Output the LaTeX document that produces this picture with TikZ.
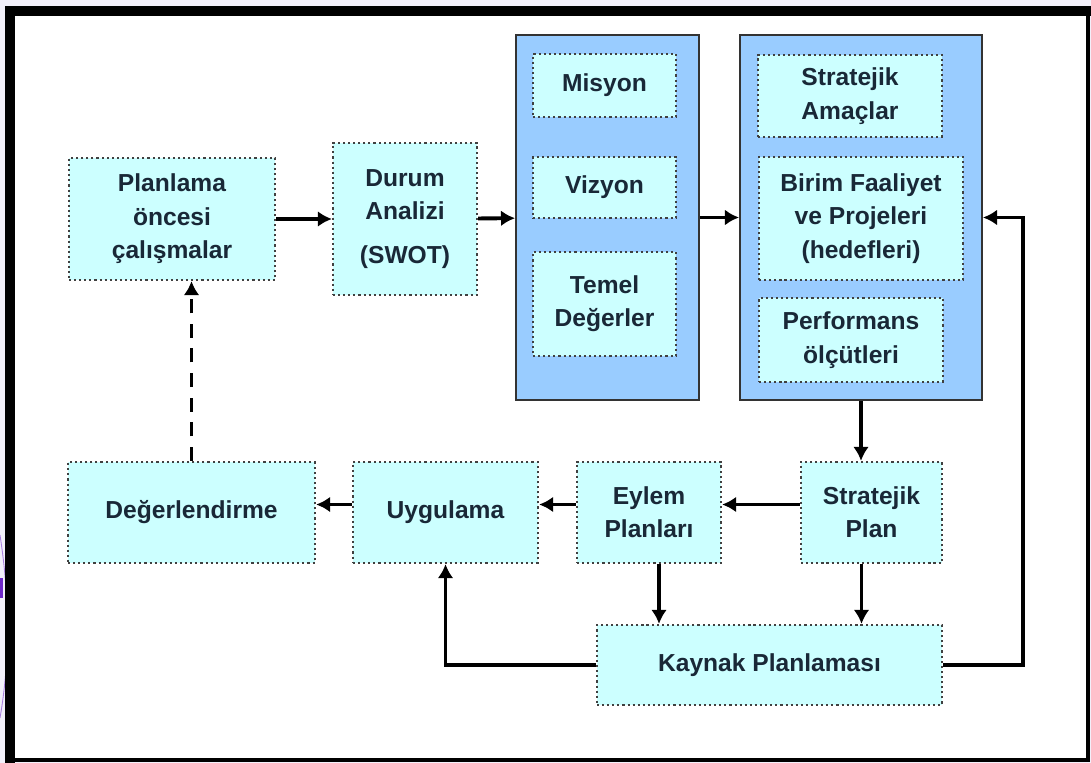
\documentclass[tikz,border=0pt]{standalone}
\usepackage{fontspec}
\setmainfont{Liberation Sans}
\usetikzlibrary{arrows.meta}

\definecolor{boxfill}{RGB}{204,255,255}
\definecolor{panelfill}{RGB}{153,204,255}
\definecolor{inkcol}{RGB}{25,40,55}
\definecolor{slidebg}{RGB}{242,240,250}
\definecolor{slidepurple}{RGB}{110,40,200}

\begin{document}
\begin{tikzpicture}[x=0.02cm, y=-0.02cm,
    font=\fontsize{14}{19}\selectfont\bfseries]
  \tikzset{stepbox/.style={draw=black!75, fill=boxfill, text=inkcol,
             line width=1.3pt, dash pattern=on 1.2pt off 1.7pt,
             align=center, inner sep=2pt},
           panel/.style={draw=black!80, fill=panelfill, line width=1.1pt},
           flow/.style={line width=2.2pt, -{Latex[length=8pt,width=9pt]}}}
  % slide background and frame
  \useasboundingbox (0,0) rectangle (1091,763);
  \fill[slidebg] (0,0) rectangle (1091,763);
  \fill[white] (10,11) rectangle (1088,760);
  \draw[slidepurple!60, line width=0.5pt] (0,535) .. controls (10,600) and (10,660) .. (0,718);
  \draw[slidepurple, line width=2pt] (1,578) -- (1,598);
  \draw[line width=5.7pt] (10,763) -- (10,11) -- (1091,11);
  \draw[line width=1.8pt] (1088,11) -- (1088,760) -- (10,760);

  % blue panels
  \node[panel, minimum width=183*0.02cm, minimum height=365*0.02cm] (values) at (607.5,217.5) {};
  \node[panel, minimum width=242*0.02cm, minimum height=365*0.02cm] (goals) at (861,217.5) {};

  % top row
  \node[stepbox, minimum width=206*0.02cm, minimum height=122*0.02cm] (prep) at (172,219)
    {Planlama\\öncesi\\çalışmalar};
  \node[stepbox, minimum width=144*0.02cm, minimum height=152*0.02cm] (swot) at (405,219)
    {Durum\\Analizi\\[6pt](SWOT)};

  \node[stepbox, minimum width=143*0.02cm, minimum height=63*0.02cm] (mission) at (604.5,85.5) {Misyon};
  \node[stepbox, minimum width=143*0.02cm, minimum height=61*0.02cm] (vision) at (604.5,187.5) {Vizyon};
  \node[stepbox, minimum width=143*0.02cm, minimum height=104*0.02cm] (core) at (604.5,304) {Temel\\Değerler};

  \node[stepbox, minimum width=184*0.02cm, minimum height=82*0.02cm] (aims) at (850,96) {Stratejik\\Amaçlar};
  \node[stepbox, minimum width=204*0.02cm, minimum height=123*0.02cm] (units) at (861,218.5)
    {Birim Faaliyet\\ve Projeleri\\(hedefleri)};
  \node[stepbox, minimum width=184*0.02cm, minimum height=84*0.02cm] (perf) at (851,340) {Performans\\ölçütleri};

  % bottom rows
  \node[stepbox, minimum width=141*0.02cm, minimum height=101*0.02cm] (splan) at (871.5,512.5) {Stratejik\\Plan};
  \node[stepbox, minimum width=144*0.02cm, minimum height=101*0.02cm] (action) at (649,512.5) {Eylem\\Planları};
  \node[stepbox, minimum width=185*0.02cm, minimum height=101*0.02cm] (apply) at (445.5,512.5) {Uygulama};
  \node[stepbox, minimum width=247*0.02cm, minimum height=101*0.02cm] (review) at (191.5,512.5) {Değerlendirme};
  \node[stepbox, minimum width=345*0.02cm, minimum height=80*0.02cm] (budget) at (769.5,665) {Kaynak Planlaması};

  \coordinate (turn) at (1023,0);

  % connectors
  \draw[flow] (prep) -- (swot);
  \draw[flow] (swot) -- (values);
  \draw[flow] (values) -- (goals);
  \draw[flow] (goals.south) -- (goals.south |- splan.north);
  \draw[flow] ([yshift=8*0.02cm]splan.west) -- ([yshift=8*0.02cm]action.east);
  \draw[flow] ([yshift=8*0.02cm]action.west) -- ([yshift=8*0.02cm]apply.east);
  \draw[flow] ([yshift=8*0.02cm]apply.west) -- ([yshift=8*0.02cm]review.east);
  \draw[flow, dash pattern=on 8pt off 6pt] (review.north) -- (review.north |- prep.south);
  \draw[flow] ([xshift=10*0.02cm]action.south) -- ([xshift=10*0.02cm]action.south |- budget.north);
  \draw[flow] ([xshift=-10*0.02cm]splan.south) -- ([xshift=-10*0.02cm]splan.south |- budget.north);
  \draw[flow] (budget.west) -| (apply.south);
  \draw[flow] (budget.east) -- (budget.east -| turn) |- (goals.east);
\end{tikzpicture}
\end{document}
